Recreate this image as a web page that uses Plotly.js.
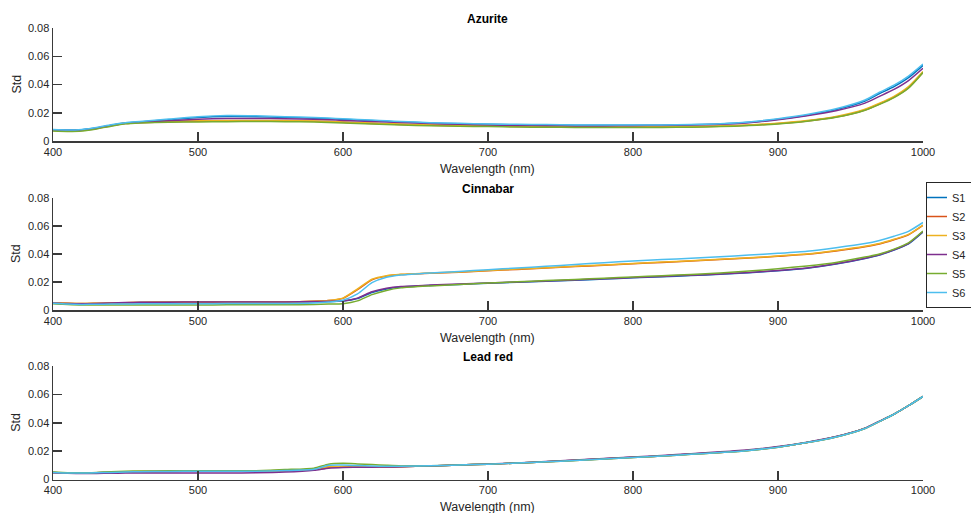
<!DOCTYPE html>
<html>
<head>
<meta charset="utf-8">
<script src="https://cdn.plot.ly/plotly-3.0.1.min.js"></script>
<style>html,body{margin:0;padding:0;background:#fff;}#chart{width:971px;height:513px;}</style>
</head>
<body>
<div id="chart"></div>
<script>
// Wavelength (nm)
const wavelength = [400,410,420,430,440,450,460,480,500,520,540,560,580,590,600,610,620,630,640,660,680,700,720,740,760,780,800,820,840,860,880,900,920,940,960,970,980,990,1000];

const seriesNames = ['S1','S2','S3','S4','S5','S6'];
const seriesColors = ['#0072BD','#D95319','#EDB120','#7E2F8E','#77AC30','#4DBEEE'];
const panelTitles = ['Azurite','Cinnabar','Lead red'];
const xTicks = [400,500,600,700,800,900,1000];
const yTicks = [0,0.02,0.04,0.06,0.08];

// Azurite
const azuriteS1 = [0.0080,0.0077,0.0080,0.0093,0.0112,0.0127,0.0135,0.0150,0.0166,0.0173,0.0172,0.0167,0.0161,0.0157,0.0153,0.0148,0.0144,0.0139,0.0135,0.0127,0.0122,0.0118,0.0115,0.0113,0.0112,0.0111,0.0111,0.0112,0.0115,0.0120,0.0132,0.0154,0.0183,0.0222,0.0283,0.0336,0.0385,0.0448,0.0535];
const azuriteS2 = [0.0074,0.0071,0.0074,0.0088,0.0108,0.0124,0.0130,0.0136,0.0140,0.0142,0.0143,0.0142,0.0139,0.0136,0.0132,0.0128,0.0124,0.0120,0.0117,0.0112,0.0108,0.0106,0.0103,0.0101,0.0099,0.0098,0.0098,0.0099,0.0101,0.0105,0.0112,0.0124,0.0142,0.0170,0.0220,0.0262,0.0310,0.0378,0.0485];
const azuriteS3 = [0.0076,0.0073,0.0076,0.0090,0.0110,0.0127,0.0133,0.0139,0.0143,0.0145,0.0146,0.0145,0.0142,0.0139,0.0135,0.0131,0.0127,0.0123,0.0120,0.0115,0.0111,0.0109,0.0106,0.0103,0.0101,0.0100,0.0100,0.0101,0.0103,0.0107,0.0114,0.0126,0.0145,0.0174,0.0225,0.0267,0.0316,0.0385,0.0492];
const azuriteS4 = [0.0078,0.0075,0.0078,0.0091,0.0110,0.0126,0.0132,0.0144,0.0154,0.0159,0.0160,0.0158,0.0154,0.0150,0.0146,0.0142,0.0138,0.0134,0.0131,0.0124,0.0118,0.0113,0.0110,0.0108,0.0107,0.0107,0.0108,0.0110,0.0113,0.0118,0.0130,0.0150,0.0178,0.0214,0.0268,0.0316,0.0365,0.0428,0.0515];
const azuriteS5 = [0.0070,0.0068,0.0071,0.0085,0.0105,0.0122,0.0128,0.0133,0.0135,0.0137,0.0138,0.0137,0.0134,0.0131,0.0128,0.0124,0.0120,0.0116,0.0113,0.0108,0.0104,0.0102,0.0099,0.0097,0.0096,0.0095,0.0095,0.0096,0.0098,0.0102,0.0109,0.0121,0.0140,0.0168,0.0218,0.0259,0.0307,0.0374,0.0485];
const azuriteS6 = [0.0081,0.0078,0.0082,0.0095,0.0115,0.0130,0.0138,0.0155,0.0172,0.0180,0.0178,0.0172,0.0166,0.0162,0.0158,0.0153,0.0148,0.0143,0.0138,0.0130,0.0125,0.0121,0.0118,0.0116,0.0114,0.0113,0.0113,0.0114,0.0117,0.0122,0.0135,0.0158,0.0188,0.0228,0.0290,0.0345,0.0395,0.0460,0.0545];

// Cinnabar
const cinnabarS1 = [0.0049,0.0044,0.0043,0.0045,0.0048,0.0051,0.0053,0.0055,0.0056,0.0056,0.0057,0.0057,0.0059,0.0061,0.0064,0.0082,0.0125,0.0150,0.0164,0.0175,0.0183,0.0191,0.0198,0.0206,0.0213,0.0221,0.0230,0.0238,0.0246,0.0255,0.0266,0.0280,0.0298,0.0328,0.0368,0.0393,0.0428,0.0473,0.0558];
const cinnabarS2 = [0.0052,0.0048,0.0046,0.0048,0.0050,0.0052,0.0054,0.0055,0.0055,0.0056,0.0056,0.0057,0.0062,0.0067,0.0083,0.0145,0.0215,0.0242,0.0253,0.0263,0.0270,0.0280,0.0290,0.0300,0.0310,0.0320,0.0331,0.0340,0.0350,0.0360,0.0371,0.0384,0.0398,0.0422,0.0452,0.0472,0.0502,0.0537,0.0604];
const cinnabarS3 = [0.0052,0.0048,0.0046,0.0048,0.0050,0.0052,0.0054,0.0055,0.0055,0.0056,0.0056,0.0057,0.0062,0.0068,0.0085,0.0150,0.0220,0.0245,0.0255,0.0265,0.0272,0.0282,0.0292,0.0302,0.0312,0.0322,0.0333,0.0342,0.0352,0.0362,0.0373,0.0386,0.0400,0.0425,0.0455,0.0475,0.0505,0.0540,0.0607];
const cinnabarS4 = [0.0050,0.0046,0.0045,0.0047,0.0050,0.0053,0.0055,0.0056,0.0057,0.0057,0.0058,0.0058,0.0060,0.0062,0.0065,0.0085,0.0130,0.0155,0.0168,0.0178,0.0185,0.0193,0.0200,0.0208,0.0215,0.0223,0.0232,0.0240,0.0248,0.0257,0.0268,0.0282,0.0300,0.0330,0.0370,0.0395,0.0430,0.0475,0.0560];
const cinnabarS5 = [0.0045,0.0039,0.0035,0.0035,0.0035,0.0035,0.0036,0.0036,0.0036,0.0037,0.0037,0.0037,0.0039,0.0042,0.0045,0.0065,0.0110,0.0140,0.0158,0.0172,0.0182,0.0192,0.0202,0.0210,0.0218,0.0227,0.0236,0.0245,0.0254,0.0264,0.0278,0.0295,0.0315,0.0340,0.0378,0.0400,0.0435,0.0480,0.0564];
const cinnabarS6 = [0.0048,0.0042,0.0040,0.0041,0.0042,0.0043,0.0044,0.0045,0.0045,0.0046,0.0046,0.0047,0.0050,0.0057,0.0070,0.0115,0.0195,0.0234,0.0250,0.0265,0.0275,0.0288,0.0300,0.0312,0.0325,0.0338,0.0350,0.0360,0.0370,0.0380,0.0392,0.0405,0.0420,0.0445,0.0475,0.0497,0.0527,0.0562,0.0625];

// Lead red
const leadS1 = [0.0050,0.0046,0.0045,0.0047,0.0050,0.0053,0.0055,0.0057,0.0058,0.0058,0.0059,0.0062,0.0070,0.0088,0.0090,0.0090,0.0090,0.0090,0.0091,0.0096,0.0102,0.0108,0.0116,0.0125,0.0135,0.0146,0.0156,0.0166,0.0179,0.0191,0.0206,0.0229,0.0261,0.0301,0.0361,0.0410,0.0460,0.0520,0.0585];
const leadS2 = [0.0050,0.0046,0.0045,0.0047,0.0050,0.0053,0.0055,0.0057,0.0058,0.0058,0.0059,0.0062,0.0070,0.0086,0.0088,0.0089,0.0089,0.0089,0.0090,0.0096,0.0102,0.0108,0.0116,0.0125,0.0135,0.0146,0.0156,0.0166,0.0179,0.0191,0.0206,0.0229,0.0261,0.0301,0.0361,0.0410,0.0460,0.0520,0.0585];
const leadS3 = [0.0050,0.0046,0.0045,0.0048,0.0051,0.0054,0.0056,0.0058,0.0059,0.0059,0.0060,0.0063,0.0071,0.0090,0.0092,0.0091,0.0090,0.0090,0.0091,0.0096,0.0102,0.0108,0.0116,0.0125,0.0134,0.0145,0.0155,0.0165,0.0178,0.0190,0.0205,0.0228,0.0260,0.0300,0.0360,0.0410,0.0460,0.0520,0.0585];
const leadS4 = [0.0048,0.0044,0.0042,0.0043,0.0044,0.0045,0.0045,0.0046,0.0046,0.0046,0.0047,0.0052,0.0065,0.0080,0.0085,0.0086,0.0087,0.0088,0.0090,0.0096,0.0103,0.0109,0.0117,0.0127,0.0137,0.0148,0.0158,0.0169,0.0182,0.0195,0.0210,0.0232,0.0263,0.0303,0.0362,0.0411,0.0461,0.0521,0.0586];
const leadS5 = [0.0052,0.0048,0.0047,0.0050,0.0055,0.0058,0.0060,0.0061,0.0061,0.0061,0.0062,0.0070,0.0080,0.0108,0.0114,0.0110,0.0105,0.0100,0.0096,0.0097,0.0102,0.0108,0.0116,0.0125,0.0134,0.0145,0.0155,0.0165,0.0178,0.0190,0.0205,0.0228,0.0260,0.0300,0.0360,0.0410,0.0460,0.0520,0.0585];
const leadS6 = [0.0050,0.0046,0.0045,0.0047,0.0050,0.0053,0.0055,0.0057,0.0058,0.0058,0.0059,0.0063,0.0072,0.0100,0.0102,0.0098,0.0095,0.0093,0.0093,0.0097,0.0102,0.0108,0.0116,0.0125,0.0134,0.0145,0.0155,0.0165,0.0178,0.0190,0.0205,0.0228,0.0260,0.0300,0.0360,0.0410,0.0460,0.0520,0.0585];

const panels = [
  [azuriteS1, azuriteS2, azuriteS3, azuriteS4, azuriteS5, azuriteS6],
  [cinnabarS1, cinnabarS2, cinnabarS3, cinnabarS4, cinnabarS5, cinnabarS6],
  [leadS1, leadS2, leadS3, leadS4, leadS5, leadS6]
];

const W = 971, H = 513;
const FONT = 'Liberation Sans, Arial, Helvetica, sans-serif';
const TXT = '#262626';
const AX = '#3a3a3a';
// panel pixel extents (top, bottom)
const panelPx = [[28, 141], [198, 310], [366, 479.5]];
const xLeft = 53, xRight = 923;

const traces = [];
panels.forEach((series, p) => {
  series.forEach((vals, i) => {
    traces.push({
      x: wavelength, y: vals,
      type: 'scatter', mode: 'lines',
      name: seriesNames[i],
      legendgroup: seriesNames[i],
      showlegend: p === 0,
      line: {color: seriesColors[i], width: 1.5, shape: 'spline', smoothing: 0.6},
      xaxis: p === 0 ? 'x' : 'x' + (p + 1),
      yaxis: p === 0 ? 'y' : 'y' + (p + 1),
      hoverinfo: 'skip'
    });
  });
});

const layout = {
  width: W, height: H,
  margin: {l: 0, r: 0, t: 0, b: 0, autoexpand: false},
  paper_bgcolor: '#ffffff', plot_bgcolor: '#ffffff',
  font: {family: FONT, size: 11, color: TXT},
  showlegend: true,
  legend: {
    x: 926 / W, xanchor: 'left',
    y: 1 - 245 / H, yanchor: 'middle',
    bgcolor: '#ffffff', bordercolor: '#262626', borderwidth: 1,
    font: {family: FONT, size: 11, color: TXT},
    indentation: -15,
    tracegroupgap: 0
  },
  annotations: []
};

panelPx.forEach((pp, p) => {
  const sx = p === 0 ? '' : String(p + 1);
  layout['xaxis' + sx] = {
    domain: [xLeft / W, xRight / W],
    anchor: 'y' + sx,
    range: [400, 1000],
    tickmode: 'array', tickvals: xTicks,
    ticks: 'inside', ticklen: 9, tickwidth: 1.5, tickcolor: AX,
    showline: true, linecolor: AX, linewidth: 1.5,
    showgrid: false, zeroline: false,
    tickfont: {family: FONT, size: 11, color: TXT}
  };
  layout['yaxis' + sx] = {
    domain: [1 - pp[1] / H, 1 - pp[0] / H],
    anchor: 'x' + sx,
    range: [0, 0.08],
    tickmode: 'array', tickvals: yTicks, ticktext: ['0','0.02','0.04','0.06','0.08'],
    ticks: 'inside', ticklen: 9, tickwidth: 1.5, tickcolor: AX,
    showline: true, linecolor: AX, linewidth: 1.5,
    showgrid: false, zeroline: false,
    tickfont: {family: FONT, size: 11, color: TXT}
  };
  const mid = (pp[0] + pp[1]) / 2;
  layout.annotations.push({
    text: '<b>' + panelTitles[p] + '</b>', xref: 'paper', yref: 'paper',
    x: (xLeft + xRight) / 2 / W, y: 1 - (pp[0] - 9.5) / H,
    xanchor: 'center', yanchor: 'middle', showarrow: false,
    font: {family: FONT, size: 12, color: '#000'}
  });
  layout.annotations.push({
    text: 'Wavelength (nm)', xref: 'paper', yref: 'paper',
    x: (xLeft + xRight) / 2 / W, y: 1 - (pp[1] + 27.5) / H,
    xanchor: 'center', yanchor: 'middle', showarrow: false,
    font: {family: FONT, size: 12.5, color: TXT}
  });
  layout.annotations.push({
    text: 'Std', xref: 'paper', yref: 'paper',
    x: 16 / W, y: 1 - mid / H, textangle: -90,
    xanchor: 'center', yanchor: 'middle', showarrow: false,
    font: {family: FONT, size: 12.5, color: TXT}
  });
});

Plotly.newPlot('chart', traces, layout, {staticPlot: true, displayModeBar: false});
</script>
</body>
</html>
